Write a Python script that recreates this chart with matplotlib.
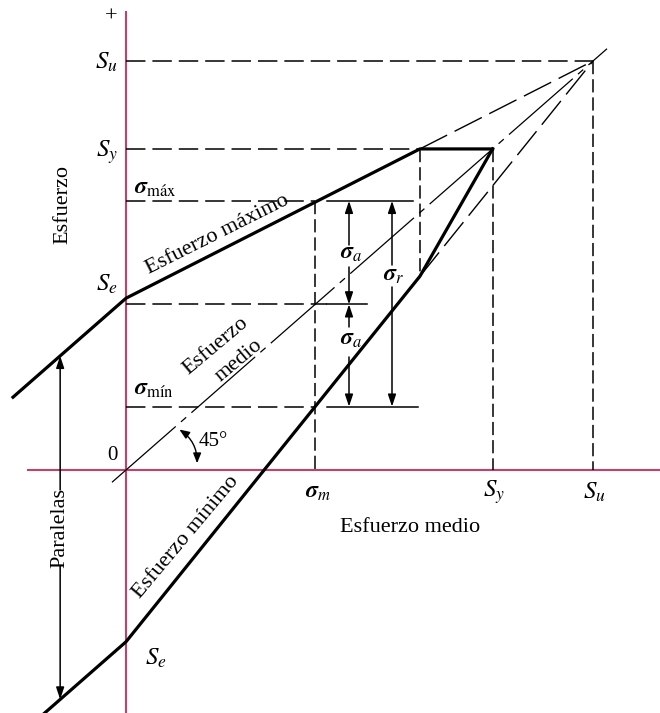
import matplotlib
matplotlib.use('Agg')
import matplotlib.pyplot as plt
from matplotlib.patches import FancyArrowPatch

plt.rcParams['font.family'] = ['Liberation Serif', 'DejaVu Serif']
plt.rcParams['mathtext.fontset'] = 'stix'
plt.rcParams['lines.scale_dashes'] = False

# ---- data (stress units, arbitrary) ----
Su = 10.0          # ultimate strength
Sy = 7.85          # yield strength
Se = 4.2           # endurance limit
sigma_m = 4.05     # mean stress of the example
sigma_max = 6.58   # max stress of the example
sigma_min = 1.55   # min stress of the example
mean_line_x = [-0.3, 10.3]   # extent of the 45 deg mean-stress line
left_upper_x = -2.42         # left end of upper "parallel" line
left_lower_x = -1.95         # left end of lower "parallel" line
paralelas_x = -1.41          # x of the "Paralelas" arrow

# derived geometry
xA = Su * (Sy - Se) / (Su - Se)       # upper Goodman line meets Sy
yC = 2 * xA - Sy                        # yield line meets lower Goodman line
upper_x = [left_upper_x, 0, xA, Sy]
upper_y = [Se + left_upper_x, Se, Sy, Sy]
lower_x = [left_lower_x, 0, sigma_m, xA, Sy]
lower_y = [-Se + left_lower_x, -Se, sigma_min, yC, Sy]

# ---- figure / pixel mapping ----
W, H = 660, 713
X0, Y0 = 126, 470      # pixel of origin
KX, KY = 46.7, 40.9    # pixels per unit


def P(px, py):
    return (px - X0) / KX, (Y0 - py) / KY


fig = plt.figure(figsize=(W / 100, H / 100), dpi=100)
ax = fig.add_axes([0, 0, 1, 1])
ax.set_xlim(-X0 / KX, (W - X0) / KX)
ax.set_ylim((Y0 - H) / KY, Y0 / KY)
ax.axis('off')

axis_col = '#c0416a'
K = 'black'
# axes
ax.plot([0, 0], [P(0, H)[1], P(0, 12)[1]], color=axis_col, lw=1.5, zorder=1)
ax.plot([P(28, 0)[0], P(W, 0)[0]], [0, 0], color=axis_col, lw=1.5, zorder=1)

hdash = (0, (14, 5))
vdash = (0, (9.5, 3.6))
ldash = (0, (22, 6))
dashdot = (0, (61, 5, 5, 5))

# thick boundary lines
ax.plot(upper_x, upper_y, color=K, lw=2.3, solid_joinstyle='miter', zorder=5)
ax.plot(lower_x, lower_y, color=K, lw=2.3, solid_joinstyle='miter', zorder=5)

# extensions to Su
ax.plot([xA, Su], [Sy, Su], color=K, lw=1.0, ls=ldash, zorder=4)
ax.plot([xA, Su], [yC, Su], color=K, lw=1.0, ls=ldash, zorder=4)
# 45 deg mean line
ax.plot(mean_line_x, mean_line_x, color=K, lw=0.9, ls=dashdot, zorder=4)

# horizontal dashed lines
x_tick0 = P(327, 0)[0]
ax.plot([0, Su], [Su, Su], color=K, lw=1.1, ls=hdash)
ax.plot([0, xA], [Sy, Sy], color=K, lw=1.1, ls=hdash)
ax.plot([0, sigma_m], [sigma_max, sigma_max], color=K, lw=1.1, ls=hdash)
ax.plot([0, x_tick0], [sigma_m, sigma_m], color=K, lw=1.1, ls=hdash)
ax.plot([0, sigma_m], [sigma_min, sigma_min], color=K, lw=1.1, ls=hdash)
# solid short reference lines
ax.plot([x_tick0, P(413, 0)[0]], [sigma_max, sigma_max], color=K, lw=1.1)
ax.plot([x_tick0, P(367, 0)[0]], [sigma_m, sigma_m], color=K, lw=1.1)
ax.plot([x_tick0, P(418, 0)[0]], [sigma_min, sigma_min], color=K, lw=1.1)

# vertical dashed lines
ax.plot([sigma_m, sigma_m], [sigma_max, 0], color=K, lw=1.1, ls=vdash)
ax.plot([xA, xA], [Sy, yC], color=K, lw=1.1, ls=vdash)
ax.plot([Sy, Sy], [Sy, 0], color=K, lw=1.1, ls=vdash)
ax.plot([Su, Su], [Su, 0], color=K, lw=1.1, ls=vdash)

astyle = '-|>,head_length=0.6,head_width=0.2'


def arrow(x, y_from, y_to):
    ax.annotate('', xy=(x, y_to), xytext=(x, y_from),
                arrowprops=dict(arrowstyle=astyle, color=K, lw=1.1,
                                mutation_scale=12, shrinkA=0, shrinkB=0))


xa = P(349, 0)[0]
xr = P(392, 0)[0]
arrow(xa, P(0, 245)[1], sigma_max)
arrow(xa, P(0, 267)[1], sigma_m)
arrow(xa, P(0, 327)[1], sigma_m)
arrow(xa, P(0, 357)[1], sigma_min)
arrow(xr, P(0, 265)[1], sigma_max)
arrow(xr, P(0, 287)[1], sigma_min)

# Paralelas arrow
arrow(paralelas_x, P(0, 490)[1], Se + paralelas_x)
arrow(paralelas_x, P(0, 566)[1], -Se + paralelas_x)

# 45 degree arc
arc = FancyArrowPatch(P(177, 428), P(197, 466), connectionstyle='arc3,rad=-0.3',
                      arrowstyle='<|-|>,head_length=0.5,head_width=0.2',
                      mutation_scale=12, color=K, lw=1.0)
ax.add_patch(arc)

# ---- text ----
def T(px, py, s, size=16, **kw):
    kw.setdefault('ha', 'center')
    kw.setdefault('va', 'center')
    ax.text(*P(px, py), s, fontsize=size, color=K, **kw)


T(111, 17, '+', 16)
T(118, 62, r'$S_u$', 18, ha='right')
T(118, 152, r'$S_y$', 18, ha='right')
T(134, 188, r'$\boldsymbol{\sigma}_{\mathrm{máx}}$', 17, ha='left')
T(118, 284, r'$S_e$', 18, ha='right')
T(134, 390, r'$\boldsymbol{\sigma}_{\mathrm{mín}}$', 17, ha='left')
T(112, 455, '0', 15)
T(213, 441, '45°', 15)
T(63, 205, 'Esfuerzo', 16, rotation=90)
T(217, 235, 'Esfuerzo máximo', 16, rotation=26.6, rotation_mode='anchor')
T(216, 346, 'Esfuerzo', 16, rotation=40, rotation_mode='anchor')
T(239, 361, 'medio', 16, rotation=40, rotation_mode='anchor')
T(186, 537, 'Esfuerzo mínimo', 16, rotation=50, rotation_mode='anchor')
T(60, 528, 'Paralelas', 16, rotation=90)
T(351, 254, r'$\boldsymbol{\sigma}_a$', 17)
T(351, 340, r'$\boldsymbol{\sigma}_a$', 17)
T(394, 275, r'$\boldsymbol{\sigma}_r$', 17)
T(318, 492, r'$\boldsymbol{\sigma}_m$', 17)
T(494, 492, r'$S_y$', 18)
T(594, 492, r'$S_u$', 18)
T(410, 528, 'Esfuerzo medio', 16)
T(145, 658, r'$S_e$', 18, ha='left')

fig.savefig('out.png', dpi=100)
